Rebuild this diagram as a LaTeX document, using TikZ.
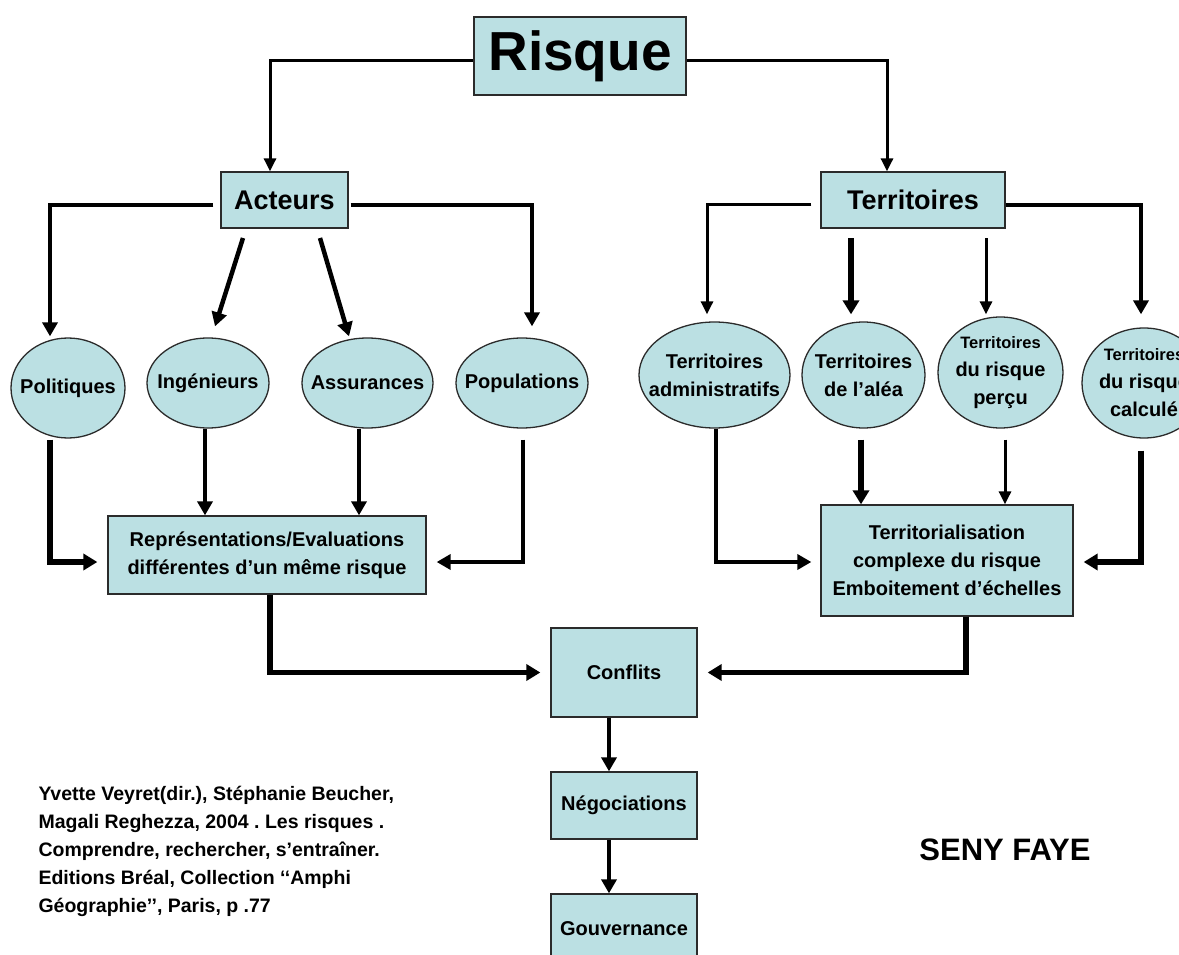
\documentclass[tikz,border=0pt]{standalone}
\usepackage{fontspec}
\setmainfont{Liberation Sans}
\usepackage{tikz}
\usetikzlibrary{arrows.meta,shapes.geometric}
\definecolor{boxfill}{HTML}{BBE0E3}
\definecolor{boxline}{HTML}{2B2B2B}
\frenchspacing

\begin{document}
\begin{tikzpicture}[x=1pt,y=-1pt,
  font=\fontsize{20}{28}\selectfont\bfseries,
  % boxes and ovals share the pale blue fill
  box/.style={draw=boxline,line width=1.3pt,fill=boxfill,inner sep=0pt,align=center},
  % negative inner sep: the oval keeps its minimum size and hugs the text
  oval/.style={box,ellipse,inner sep=-80pt},
  headbox/.style={box,font=\fontsize{27}{32}\selectfont\bfseries},
  link/.style={-{Triangle[length=13pt,width=12pt]},line width=3pt,draw=black},
  boldlink/.style={-{Triangle[length=14pt,width=15pt]},line width=4.5pt,draw=black},
  heavylink/.style={-{Triangle[length=14pt,width=16pt]},line width=5.5pt,draw=black}
]
  \useasboundingbox (0,0) rectangle (1179,955);
  \fill[white] (0,0) rectangle (1179,955);

  \node[box,minimum width=212,minimum height=78,font=\fontsize{55}{60}\selectfont\bfseries]
    (risque) at (580,56) {Risque};
  \node[headbox,minimum width=127,minimum height=56] (acteurs) at (284.5,200) {Acteurs};
  \node[headbox,minimum width=184,minimum height=56] (territoires) at (913,200) {Territoires};

  \node[oval,minimum width=114,minimum height=100] (politiques) at (68,388) {Politiques};
  \node[oval,minimum width=122,minimum height=90] (ingenieurs) at (208,383) {Ingénieurs};
  \node[oval,minimum width=131,minimum height=90] (assurances) at (367.5,383) {Assurances};
  \node[oval,minimum width=132,minimum height=90] (populations) at (522,383) {Populations};

  \node[oval,minimum width=151,minimum height=106] (tadmin) at (714.5,375)
    {Territoires\\administratifs};
  \node[oval,minimum width=123,minimum height=106] (talea) at (863.5,375)
    {Territoires\\de l’aléa};
  \node[oval,minimum width=125,minimum height=111] (tpercu) at (1000.5,372.5)
    {{\fontsize{16.5}{24}\selectfont Territoires}\\du risque\\perçu};
  \node[oval,minimum width=124,minimum height=110] (tcalcule) at (1144,383)
    {{\fontsize{16.5}{24}\selectfont Territoires}\\du risque\\calculé};

  \node[box,minimum width=318,minimum height=78] (rep) at (267,555)
    {Représentations/Evaluations\\différentes d’un même risque};
  \node[box,minimum width=252,minimum height=111] (terr) at (947,560.5)
    {Territorialisation\\complexe du risque\\Emboitement d’échelles};

  \node[box,minimum width=146,minimum height=89] (conflits) at (624,672.5) {Conflits};
  \node[box,minimum width=146,minimum height=67] (negociations) at (624,805.5) {Négociations};
  \node[box,minimum width=146,minimum height=70] (gouvernance) at (624,929) {Gouvernance};

  \node[anchor=west,align=left,font=\fontsize{19.5}{28}\selectfont\bfseries] (reference) at (35,851)
    {Yvette Veyret(dir.), Stéphanie Beucher,\\Magali Reghezza, 2004 . Les risques .\\
     Comprendre, rechercher, s’entraîner.\\Editions Bréal, Collection ‘‘Amphi\\
     Géographie’’, Paris, p .77};
  \node[font=\fontsize{31}{36}\selectfont\bfseries] (auteur) at (1005,850) {SENY FAYE};

  % from the top box
  \draw[link] ([shift={(0,5)}]risque.west) -| ([shift={(-14.5,0)}]acteurs.north);
  \draw[link] ([shift={(0,5)}]risque.east) -| ([shift={(-26,0)}]territoires.north);

  % acteurs
  \draw[boldlink] ([shift={(-7,5)}]acteurs.west) -| ([shift={(-18,-1)}]politiques.north);
  \draw[boldlink] ([shift={(-41.5,38)}]acteurs.center) -- ([shift={(7,-11)}]ingenieurs.north);
  \draw[boldlink] ([shift={(35.5,38)}]acteurs.center) -- ([shift={(-18.5,-1)}]assurances.north);
  \draw[boldlink] ([shift={(2,5)}]acteurs.east) -| ([shift={(10,-11)}]populations.north);

  % territoires
  \draw[link] ([shift={(-9,5)}]territoires.west) -| ([shift={(-7.5,-7)}]tadmin.north);
  \draw[heavylink] ([shift={(-62,38)}]territoires.center) -- ([shift={(-12.5,-7)}]talea.north);
  \draw[link] ([shift={(73,38)}]territoires.center) -- ([shift={(-14.5,-2)}]tpercu.north);
  \draw[boldlink] ([shift={(0,5)}]territoires.east) -| ([shift={(-3,-13)}]tcalcule.north);

  % towards the representations
  \draw[heavylink] ([shift={(-18,1)}]politiques.south) |- ([shift={(-10,7)}]rep.west);
  \draw[boldlink] ([shift={(-3,0)}]ingenieurs.south) -- ([shift={(-62,0)}]rep.north);
  \draw[boldlink] ([shift={(-8.5,0)}]assurances.south) -- ([shift={(92,0)}]rep.north);
  \draw[boldlink] ([shift={(1,11)}]populations.south) |- ([shift={(10,7)}]rep.east);

  % towards the territorialisation
  \draw[boldlink] ([shift={(1.5,0)}]tadmin.south) |- ([shift={(-9,1.5)}]terr.west);
  \draw[heavylink] ([shift={(-2.5,11)}]talea.south) -- ([shift={(-86,0)}]terr.north);
  \draw[link] ([shift={(4.5,11)}]tpercu.south) -- ([shift={(58,0)}]terr.north);
  \draw[heavylink] ([shift={(-3,12)}]tcalcule.south) |- ([shift={(10,1.5)}]terr.east);

  % bottom chain
  \draw[heavylink] ([shift={(3,0)}]rep.south) |- ([shift={(-10,0)}]conflits.west);
  \draw[heavylink] ([shift={(19,0)}]terr.south) |- ([shift={(10,0)}]conflits.east);
  \draw[boldlink] ([shift={(-15,0)}]conflits.south) -- ([shift={(-15,0)}]negociations.north);
  \draw[boldlink] ([shift={(-15,0)}]negociations.south) -- ([shift={(-15,0)}]gouvernance.north);
\end{tikzpicture}
\end{document}
